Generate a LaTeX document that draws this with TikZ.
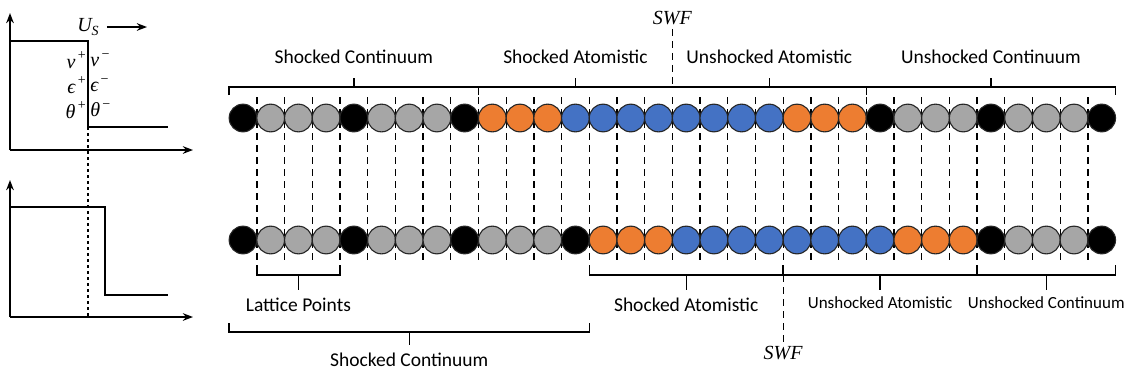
\documentclass[tikz,border=0pt]{standalone}
\usepackage{fontspec}
\setmainfont{Carlito}
\newfontfamily\symfont{Liberation Serif}
\newcommand{\signmark}[1]{\raisebox{0.42em}{\upshape\fontsize{14}{14}\selectfont\,#1}}
\newcommand{\lowmark}[1]{\raisebox{-0.22em}{\fontsize{14}{14}\selectfont #1}}
\usepackage{tikz}
\usetikzlibrary{arrows.meta,positioning,calc,backgrounds}
\definecolor{atomOrange}{RGB}{237,125,49}
\definecolor{atomBlue}{RGB}{68,114,196}
\definecolor{atomGray}{RGB}{166,166,166}

\begin{document}
\begin{tikzpicture}[x=1pt, y=-1pt, line width=1.6pt,
  every node/.style={font=\fontsize{19.5}{22}\selectfont},
  atom/.style={circle, draw=black!85, line width=1.1pt, minimum size=27.7pt, inner sep=0pt, outer sep=0pt},
  lattice/.style={dash pattern=on 7pt off 5pt, line width=1.3pt},
  bracket/.style={line width=1.4pt},
  small/.style={font=\fontsize{17}{20}\selectfont},
  sym/.style={font=\symfont\itshape\fontsize{20}{22}\selectfont}]
  \useasboundingbox (0,0) rectangle (1136,373);

  % Profiles
  \draw[-Stealth] (10,150) -- (10,13);
  \draw[-Stealth] (10,150) -- (193,150);
  \draw (10,41) -- (88,41) -- (88,127) -- (168,127);
  \draw[-Stealth] (10,317) -- (10,180);
  \draw[-Stealth] (10,317) -- (193,317);
  \draw (10,207) -- (105,207) -- (105,295) -- (168,295);
  \draw[dashed, line width=1.3pt] (88,127) -- (88,317);
  \node[sym] (us) at (88,27) {U\lowmark{S}};
  \coordinate (usTip) at (147,27);
  \draw[-Stealth] ([xshift=4pt]us.east) -- (usTip);
  \node[sym, anchor=east, inner sep=1.5pt] (vp) at (88,60) {v\signmark{+}};
  \node[sym, anchor=west, inner sep=1.5pt] (vm) at (88,60) {v\signmark{−}};
  \node[sym, anchor=east, inner sep=1.5pt] (ep) at (88,85) {ϵ\signmark{+}};
  \node[sym, anchor=west, inner sep=1.5pt] (em) at (88,85) {ϵ\signmark{−}};
  \node[sym, anchor=east, inner sep=1.5pt] (tp) at (88,110) {θ\signmark{+}};
  \node[sym, anchor=west, inner sep=1.5pt] (tm) at (88,110) {θ\signmark{−}};

  % Atom rows
  \foreach \c [count=\i from 0] in {black,atomGray,atomGray,atomGray,black,atomGray,atomGray,atomGray,black,
      atomOrange,atomOrange,atomOrange,atomBlue,atomBlue,atomBlue,atomBlue,atomBlue,atomBlue,atomBlue,atomBlue,
      atomOrange,atomOrange,atomOrange,black,atomGray,atomGray,atomGray,black,atomGray,atomGray,atomGray,black}
    \node[atom, fill=\c] (t\i) at ({243+27.7*\i},118) {};
  \foreach \c [count=\i from 0] in {black,atomGray,atomGray,atomGray,black,atomGray,atomGray,atomGray,black,
      atomGray,atomGray,atomGray,black,atomOrange,atomOrange,atomOrange,atomBlue,atomBlue,atomBlue,atomBlue,
      atomBlue,atomBlue,atomBlue,atomBlue,atomOrange,atomOrange,atomOrange,black,atomGray,atomGray,atomGray,black}
    \node[atom, fill=\c] (b\i) at ({243+27.7*\i},240) {};
  \begin{scope}[on background layer]
    \foreach \i in {0,...,30}
      \draw[lattice] ([yshift=21pt]t\i.east) -- ([yshift=-20pt]b\i.east);
  \end{scope}

  % Top brackets
  \draw[bracket] ([yshift=23pt]t0.west) -- ([yshift=31pt]t0.west) -- ([yshift=31pt]t8.east) -- ([yshift=23pt]t8.east);
  \draw[bracket] ($(t0.west)!0.5!(t8.east)+(0,-31)$) -- ++(0,-9);
  \node (scTop) at ($(t0.west)!0.5!(t8.east)+(0,-61)$) {Shocked Continuum};
  \draw[bracket] ([yshift=31pt]t8.east) -- ([yshift=31pt]t15.east);
  \draw[bracket] ($(t8.east)!0.5!(t15.east)+(0,-31)$) -- ++(0,-9);
  \node (saTop) at ($(t8.east)!0.5!(t15.east)+(0,-61)$) {Shocked Atomistic};
  \draw[bracket] ([yshift=31pt]t15.east) -- ([yshift=31pt]t22.east) -- ([yshift=23pt]t22.east);
  \draw[bracket] ($(t15.east)!0.5!(t22.east)+(0,-31)$) -- ++(0,-9);
  \node (uaTop) at ($(t15.east)!0.5!(t22.east)+(0,-61)$) {Unshocked Atomistic};
  \draw[bracket] ([yshift=31pt]t22.east) -- ([yshift=31pt]t31.east) -- ([yshift=23pt]t31.east);
  \draw[bracket] ($(t22.east)!0.5!(t31.east)+(0,-31)$) -- ++(0,-9);
  \node (ucTop) at ($(t22.east)!0.5!(t31.east)+(0,-61)$) {Unshocked Continuum};

  % Bottom brackets
  \draw[bracket] ([yshift=-25pt]b0.east) -- ([yshift=-35pt]b0.east) -- ([yshift=-35pt]b3.east) -- ([yshift=-25pt]b3.east);
  \draw[bracket] ($(b0.east)!0.5!(b3.east)+(0,35)$) -- ++(0,15);
  \node (lattice) at ($(b0.east)!0.5!(b3.east)+(0,65)$) {Lattice Points};
  \draw[bracket] ([yshift=-83pt]b0.west) -- ([yshift=-92pt]b0.west) -- ([yshift=-92pt]b12.east) -- ([yshift=-83pt]b12.east);
  \draw[bracket] ($(b0.west)!0.5!(b12.east)+(0,92)$) -- ++(0,13);
  \node (scBot) at ($(b0.west)!0.5!(b12.east)+(0,120)$) {Shocked Continuum};
  \draw[bracket] ([yshift=-25pt]b12.east) -- ([yshift=-35pt]b12.east) -- ([yshift=-35pt]b19.east);
  \draw[bracket] ($(b12.east)!0.5!(b19.east)+(0,35)$) -- ++(0,15);
  \node (saBot) at ($(b12.east)!0.5!(b19.east)+(0,65)$) {Shocked Atomistic};
  \draw[bracket] ([yshift=-25pt]b19.east) -- ([yshift=-35pt]b19.east) -- ([yshift=-35pt]b26.east) -- ([yshift=-25pt]b26.east);
  \draw[bracket] ($(b19.east)!0.5!(b26.east)+(0,35)$) -- ++(0,15);
  \node[small] (uaBot) at ($(b19.east)!0.5!(b26.east)+(0,63)$) {Unshocked Atomistic};
  \draw[bracket] ([yshift=-35pt]b26.east) -- ([yshift=-35pt]b31.east) -- ([yshift=-25pt]b31.east);
  \draw[bracket] ($(b26.east)!0.5!(b31.east)+(0,35)$) -- ++(0,15);
  \node[small] (ucBot) at ($(b26.east)!0.5!(b31.east)+(0,63)$) {Unshocked Continuum};

  % Shock wave fronts
  \node[sym] (swfTop) at ($(t15.east)+(0,-100)$) {SWF};
  \draw[lattice] (swfTop.south) -- ([yshift=31pt]t15.east);
  \node[sym] (swfBot) at ($(b19.east)+(0,113)$) {SWF};
  \draw[lattice] ([yshift=-35pt]b19.east) -- (swfBot.north);
\end{tikzpicture}
\end{document}
